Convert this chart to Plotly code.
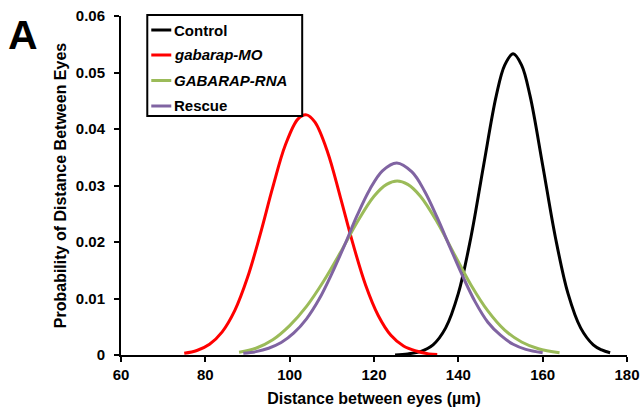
import plotly.graph_objects as go

# Values
control_x = [125, 128, 131, 134, 137, 140, 143, 146, 149, 151, 153, 155, 157, 160, 163, 166, 169, 172, 174, 176]
control_y = [0.0000, 0.0002, 0.0006, 0.0018, 0.0048, 0.0109, 0.0209, 0.0336, 0.0459, 0.0513, 0.0533,
             0.0513, 0.0459, 0.0336, 0.0209, 0.0109, 0.0048, 0.0018, 0.0009, 0.0004]

mo_x = [75, 78, 81, 84, 87, 90, 93, 96, 99, 102, 104, 106, 109, 112, 115, 118, 121, 124, 127, 130, 133, 135]
mo_y = [0.0003, 0.0008, 0.0019, 0.0041, 0.0079, 0.0137, 0.0213, 0.0297, 0.0372, 0.0418, 0.0425,
        0.0412, 0.0359, 0.0280, 0.0197, 0.0124, 0.0070, 0.0035, 0.0016, 0.0007, 0.0002, 0.0001]

rna_x = [88, 92, 96, 100, 104, 108, 112, 116, 120, 123, 125.5, 128, 131, 135, 139, 143, 147, 151, 155, 159, 164]
rna_y = [0.0005, 0.0012, 0.0027, 0.0052, 0.0086, 0.0130, 0.0181, 0.0235, 0.0281, 0.0302, 0.0308,
         0.0302, 0.0281, 0.0235, 0.0179, 0.0124, 0.0078, 0.0044, 0.0023, 0.0011, 0.0004]

rescue_x = [89, 92, 95, 98, 101, 104, 107, 110, 113, 116, 119, 122, 125.4, 129, 132, 135, 138, 141, 144, 147, 150, 153, 156, 160]
rescue_y = [0.0003, 0.0006, 0.0012, 0.0022, 0.0039, 0.0064, 0.0099, 0.0144, 0.0194, 0.0247, 0.0293, 0.0326,
            0.0340, 0.0324, 0.0290, 0.0243, 0.0191, 0.0140, 0.0094, 0.0058, 0.0035, 0.0019, 0.0010, 0.0004]

series_names = ["<b>Control</b>", "<b><i>gabarap-MO</i></b>", "<b><i>GABARAP-RNA</i></b>", "<b>Rescue</b>"]
series_colors = ["#000000", "#ff0000", "#9bbb59", "#8064a2"]

x_ticks = [60, 80, 100, 120, 140, 160, 180]
y_ticks = [0, 0.01, 0.02, 0.03, 0.04, 0.05, 0.06]
y_tick_labels = ["0", "0.01", "0.02", "0.03", "0.04", "0.05", "0.06"]

FONT = "Liberation Sans, Arial, sans-serif"

fig = go.Figure()
data = [(control_x, control_y), (mo_x, mo_y), (rna_x, rna_y), (rescue_x, rescue_y)]
for name, (xs, ys), col in zip(series_names, data, series_colors):
    fig.add_trace(go.Scatter(x=xs, y=ys, mode="lines", name=name, showlegend=False,
                             line=dict(color=col, width=3, shape="spline", smoothing=1.0)))

fig.update_layout(
    width=642, height=414,
    margin=dict(l=121, r=15, t=16, b=59, autoexpand=False),
    paper_bgcolor="white", plot_bgcolor="white",
    font=dict(family=FONT, size=13, color="black"),
    showlegend=False,
    xaxis=dict(range=[60, 180], tickvals=x_ticks, ticktext=[f"<b>{v}</b>" for v in x_ticks],
               ticks="outside", ticklen=5, tickwidth=1.5, automargin=False,
               tickcolor="black", showline=True, linecolor="black", linewidth=2,
               showgrid=False, zeroline=False, ticklabelstandoff=0,
               tickfont=dict(family=FONT, size=15, color="black", weight="bold"),
               title=dict(text="<b>Distance between eyes (µm)</b>", font=dict(size=16), standoff=11)),
    yaxis=dict(range=[0, 0.06], tickvals=y_ticks, ticktext=[f"<b>{t}</b>" for t in y_tick_labels],
               ticks="outside", ticklen=5, automargin=False,
               tickwidth=1.5, tickcolor="black", showline=True, linecolor="black", linewidth=2,
               showgrid=False, zeroline=False, ticklabelstandoff=6,
               tickfont=dict(family=FONT, size=15, color="black", weight="bold"),
               title=dict(text="<b>Probability of Distance Between Eyes</b>", font=dict(size=16), standoff=5)),
)

# Legend drawn as a boxed key in the upper-left of the plot area
PW, PH = 506.3, 339.0
def px(p):
    return (p - 120.7) / PW
def py(p):
    return (355 - p) / PH

fig.add_shape(type="rect", xref="paper", yref="paper", x0=px(147), x1=px(302), y0=py(116), y1=py(15),
              line=dict(color="black", width=2), fillcolor="white", layer="above")
rows = [30, 55, 80.5, 106]
for name, col, r in zip(series_names, series_colors, rows):
    fig.add_shape(type="line", xref="paper", yref="paper", x0=px(151), x1=px(171), y0=py(r), y1=py(r),
                  line=dict(color=col, width=3), layer="above")
    fig.add_annotation(text=name, xref="paper", yref="paper", x=px(172), y=py(r),
                       xanchor="left", yanchor="middle", showarrow=False,
                       font=dict(family=FONT, size=15, color="black"))

fig.add_annotation(text="<b>A</b>", xref="paper", yref="paper", x=px(22.5), y=py(35),
                   xanchor="center", yanchor="middle", showarrow=False,
                   font=dict(family=FONT, size=41, color="black"))

fig.write_html("out.html", config={"displayModeBar": False},
               post_script="document.body.style.margin='0';document.body.style.overflow='hidden';")
